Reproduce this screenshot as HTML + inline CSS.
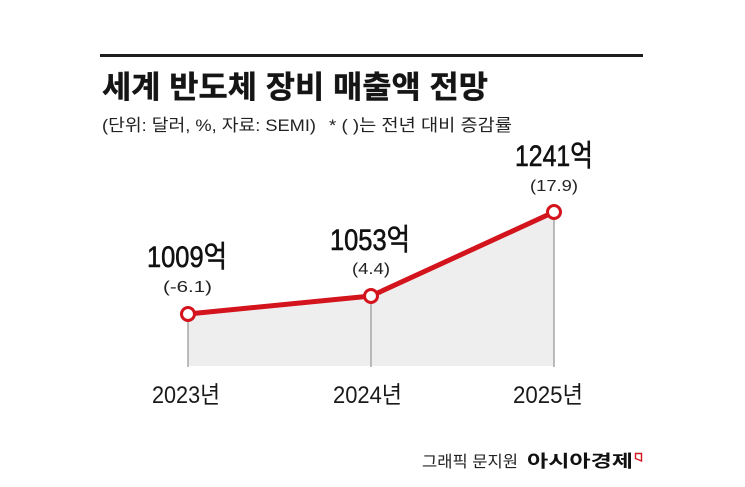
<!DOCTYPE html>
<html>
<head>
<meta charset="utf-8">
<style>
  html, body { margin: 0; padding: 0; background: #ffffff; }
  body { width: 745px; height: 487px; overflow: hidden; }
  svg { display: block; }
  .kr { font-family: "Liberation Sans", "Noto Sans CJK KR", sans-serif; }
</style>
</head>
<body>
<svg width="745" height="487" viewBox="0 0 745 487" xmlns="http://www.w3.org/2000/svg">
  <rect x="0" y="0" width="745" height="487" fill="#ffffff"/>

  <!-- top rule -->
  <rect x="100" y="54" width="543" height="3" fill="#1e1e1e"/>

  <!-- title -->
  <text class="kr" x="102" y="98" font-size="31" font-weight="700" fill="#151515" stroke="#151515" stroke-width="0.4"
        textLength="386" lengthAdjust="spacingAndGlyphs">세계 반도체 장비 매출액 전망</text>

  <!-- subtitle -->
  <text class="kr" x="102" y="131" font-size="17" fill="#222"
        textLength="214" lengthAdjust="spacingAndGlyphs">(단위: 달러, %, 자료: SEMI)</text>
  <text class="kr" x="329" y="131" font-size="17" fill="#222"
        textLength="183" lengthAdjust="spacingAndGlyphs">* ( )는 전년 대비 증감률</text>

  <!-- area fill -->
  <polygon points="188,314 371,296 554,212 554,366 188,366" fill="#eeeeee"/>

  <!-- drop lines -->
  <line x1="188" y1="314" x2="188" y2="367" stroke="#9a9a9a" stroke-width="1.3"/>
  <line x1="371" y1="296" x2="371" y2="367" stroke="#9a9a9a" stroke-width="1.3"/>
  <line x1="554" y1="212" x2="554" y2="367" stroke="#9a9a9a" stroke-width="1.3"/>

  <!-- line -->
  <polyline points="188,314 371,296 554,212" fill="none" stroke="#d3141d" stroke-width="5" stroke-linejoin="round" stroke-linecap="round"/>

  <!-- markers -->
  <circle cx="188" cy="314" r="6.5" fill="#ffffff" stroke="#d3141d" stroke-width="3"/>
  <circle cx="371" cy="296" r="6.5" fill="#ffffff" stroke="#d3141d" stroke-width="3"/>
  <circle cx="554" cy="212" r="6.5" fill="#ffffff" stroke="#d3141d" stroke-width="3"/>

  <!-- value labels -->
  <text class="kr" x="147" y="267" font-size="30" fill="#111" stroke="#111" stroke-width="0.6"
        textLength="80" lengthAdjust="spacingAndGlyphs">1009억</text>
  <text class="kr" x="163" y="292" font-size="16" fill="#222"
        textLength="49" lengthAdjust="spacingAndGlyphs">(-6.1)</text>

  <text class="kr" x="330" y="250" font-size="30" fill="#111" stroke="#111" stroke-width="0.6"
        textLength="80" lengthAdjust="spacingAndGlyphs">1053억</text>
  <text class="kr" x="352" y="274" font-size="16" fill="#222"
        textLength="38" lengthAdjust="spacingAndGlyphs">(4.4)</text>

  <text class="kr" x="515" y="166" font-size="30" fill="#111" stroke="#111" stroke-width="0.6"
        textLength="78" lengthAdjust="spacingAndGlyphs">1241억</text>
  <text class="kr" x="530" y="191" font-size="16" fill="#222"
        textLength="48" lengthAdjust="spacingAndGlyphs">(17.9)</text>

  <!-- x labels -->
  <text class="kr" x="152" y="403" font-size="24" fill="#1a1a1a"
        textLength="68" lengthAdjust="spacingAndGlyphs">2023년</text>
  <text class="kr" x="333" y="403" font-size="24" fill="#1a1a1a"
        textLength="69" lengthAdjust="spacingAndGlyphs">2024년</text>
  <text class="kr" x="513" y="403" font-size="24" fill="#1a1a1a"
        textLength="70" lengthAdjust="spacingAndGlyphs">2025년</text>

  <!-- footer -->
  <text class="kr" x="422" y="467" font-size="16" fill="#222"
        textLength="96" lengthAdjust="spacingAndGlyphs">그래픽 문지원</text>
  <text class="kr" x="527" y="467" font-size="17" font-weight="700" fill="#111"
        textLength="106" lengthAdjust="spacingAndGlyphs">아시아경제</text>
  <path d="M635.5,453.5 L641.5,453.5 L641.5,461 L635.5,458.5 Z" fill="none" stroke="#d3141d" stroke-width="1.4"/>
</svg>
</body>
</html>
